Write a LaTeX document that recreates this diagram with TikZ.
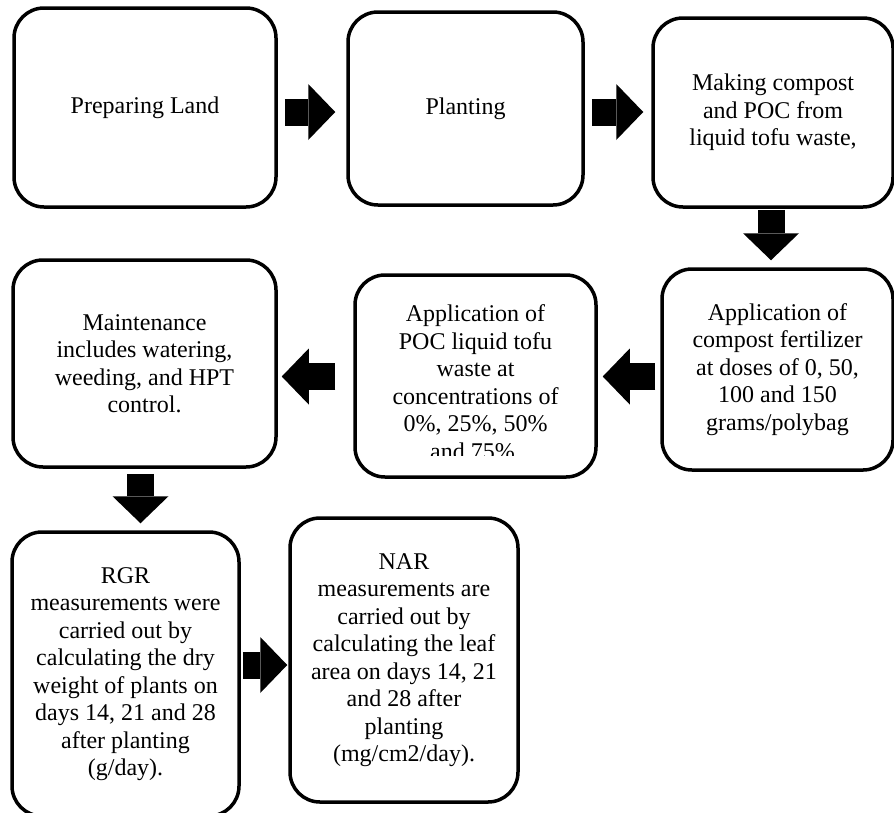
\documentclass[tikz,border=0pt]{standalone}
\usepackage{fontspec}
\setmainfont{Liberation Serif}
\usepackage{tikz}
\usetikzlibrary{arrows.meta, positioning, calc}
\tikzset{
	stage/.style     ={rectangle, rounded corners=30pt, draw=black, line width=3.5pt, align=center, text centered, inner sep=0pt, fill=white},
	blockarrow/.style={-{Triangle[width=56pt, length=27pt, line width=0pt]}, line width=27pt, black},
}
\begin{document}
\begin{tikzpicture}[x=1pt, y=-1pt, every node/.style={font=\fontsize{24}{27.5}\selectfont}]
	\useasboundingbox (0,0) rectangle (894,812);
	% top row
	\node[stage, minimum width=262pt, minimum height=199pt] (p1) at (145,107.5) {Preparing Land};
	\node[stage, minimum width=235pt, minimum height=193pt] (p2) at (465.5,108.5) {Planting};
	\node[stage, minimum width=240pt, minimum height=189pt] (p3) at (773,112.5) {Making compost\\and POC from\\liquid tofu waste,};
	% middle row
	\node[stage, minimum width=231pt, minimum height=201pt] (p4) at (777.5,369.5) {Application of\\compost fertilizer\\at doses of 0, 50,\\100 and 150\\grams/polybag};
	\node[stage, minimum width=241pt, minimum height=202pt] (p5) at (475.5,376) {};
	\begin{scope}
		\clip ($(p5.north west)+(10,10)$) rectangle ($(p5.south east)+(-10,-23)$);
		\node[align=center] (t5) at ($(p5.center)+(0,6)$) {Application of\\POC liquid tofu\\waste at\\concentrations of\\0\%, 25\%, 50\%\\and 75\%.};
	\end{scope}
	\node[stage, minimum width=263pt, minimum height=207pt] (p6) at (144.5,363.5) {Maintenance\\includes watering,\\weeding, and HPT\\control.};
	% bottom row
	\node[stage, minimum width=227pt, minimum height=284pt] (p7) at (125.5,674) {RGR\\measurements were\\carried out by\\calculating the dry\\weight of plants on\\days 14, 21 and 28\\after planting\\(g/day).};
	\node[stage, minimum width=228pt, minimum height=284pt] (p8) at (404,660) {NAR\\measurements are\\carried out by\\calculating the leaf\\area on days 14, 21\\and 28 after\\planting\\(mg/cm2/day).};
	\draw[blockarrow] ($(p1.east)+(7,4.5)$) -- ($(p2.west)+(-11,3.5)$);
	\draw[blockarrow] ($(p2.east)+(7,3.5)$) -- ($(p3.west)+(-8,-0.5)$);
	\draw[blockarrow] ($(p3.south)+(-2,1)$) -- ($(p4.north)+(-6.5,-7)$);
	\draw[blockarrow] ($(p4.west)+(-5,7)$) -- ($(p5.east)+(5,0.5)$);
	\draw[blockarrow] ($(p5.west)+(-18,0.5)$) -- ($(p6.east)+(4,13)$);
	\draw[blockarrow] ($(p6.south)+(-4,5)$) -- ($(p7.north)+(15,-7)$);
	\draw[blockarrow] ($(p7.east)+(2,-9)$) -- ($(p8.west)+(-1,5)$);
\end{tikzpicture}
\end{document}
